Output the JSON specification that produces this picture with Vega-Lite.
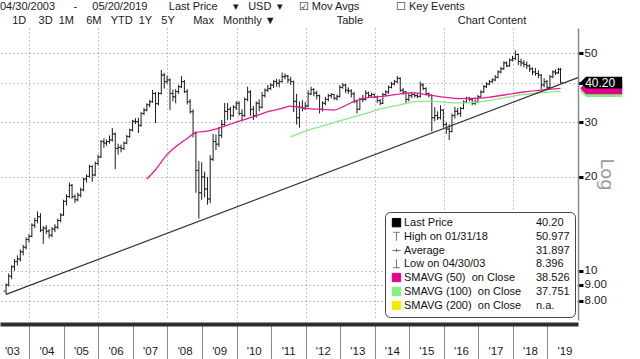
{
  "$schema": "https://vega.github.io/schema/vega-lite/v6.json",
  "width": 578,
  "height": 292,
  "autosize": {"type": "none"},
  "padding": {"top": 28, "left": 0, "right": 62, "bottom": 39},
  "background": "#ffffff",
  "config": {"view": {"stroke": null}, "font": "Liberation Sans"},
  "title": {
    "text": "04/30/2003\u00a0\u00a0\u00a0\u00a0\u00a0\u00a0-\u00a0\u00a0\u00a0\u00a0\u00a005/20/2019\u00a0\u00a0\u00a0\u00a0\u00a0\u00a0\u00a0Last Price\u00a0\u00a0\u00a0\u00a0\u00a0\u25be\u00a0\u00a0\u00a0USD\u00a0\u00a0\u25be\u00a0\u00a0\u00a0\u00a0\u00a0\u2611 Mov Avgs\u00a0\u00a0\u00a0\u00a0\u00a0\u00a0\u00a0\u00a0\u00a0\u00a0\u00a0\u00a0\u2610 Key Events",
    "subtitle": "\u200b\u00a0\u00a0\u00a0\u00a01D\u00a0\u00a0\u00a0\u00a03D\u00a0\u00a01M\u00a0\u00a0\u00a0\u00a06M\u00a0\u00a0\u00a0YTD\u00a0\u00a01Y\u00a0\u00a0\u00a05Y\u00a0\u00a0\u00a0\u00a0\u00a0\u00a0Max\u00a0\u00a0\u00a0Monthly \u25bc\u00a0\u00a0\u00a0\u00a0\u00a0\u00a0\u00a0\u00a0\u00a0\u00a0\u00a0\u00a0\u00a0\u00a0\u00a0\u00a0\u00a0\u00a0\u00a0\u00a0Table\u00a0\u00a0\u00a0\u00a0\u00a0\u00a0\u00a0\u00a0\u00a0\u00a0\u00a0\u00a0\u00a0\u00a0\u00a0\u00a0\u00a0\u00a0\u00a0\u00a0\u00a0\u00a0\u00a0\u00a0\u00a0\u00a0\u00a0\u00a0\u00a0\u00a0\u00a0Chart Content",
    "anchor": "start",
    "frame": "group",
    "offset": 2,
    "font": "Liberation Sans",
    "fontSize": 11,
    "fontWeight": "normal",
    "color": "#1a1a1a",
    "subtitleFont": "Liberation Sans",
    "subtitleFontSize": 11,
    "subtitleColor": "#1a1a1a",
    "subtitlePadding": 3
  },
  "datasets": {
    "px": [
      {"d":"2003-04-30","o":8.6,"h":9.1,"l":8.396,"c":9.0},
      {"d":"2003-05-28","o":9.0,"h":9.8,"l":8.9,"c":9.6},
      {"d":"2003-06-28","o":9.6,"h":10.4,"l":9.4,"c":10.3},
      {"d":"2003-07-28","o":10.3,"h":10.9,"l":10.0,"c":10.7},
      {"d":"2003-08-28","o":10.7,"h":11.2,"l":10.4,"c":10.9},
      {"d":"2003-09-28","o":10.9,"h":11.7,"l":10.7,"c":11.5},
      {"d":"2003-10-28","o":11.5,"h":12.1,"l":11.2,"c":11.9},
      {"d":"2003-11-28","o":11.9,"h":12.8,"l":11.7,"c":12.6},
      {"d":"2003-12-28","o":12.6,"h":13.1,"l":12.3,"c":12.9},
      {"d":"2004-01-28","o":12.9,"h":14.2,"l":12.8,"c":14.0},
      {"d":"2004-02-28","o":14.0,"h":14.8,"l":13.7,"c":14.5},
      {"d":"2004-03-28","o":14.5,"h":15.5,"l":14.2,"c":14.9},
      {"d":"2004-04-28","o":14.9,"h":15.3,"l":13.3,"c":13.5},
      {"d":"2004-05-28","o":13.5,"h":13.9,"l":12.2,"c":13.7},
      {"d":"2004-06-28","o":13.7,"h":14.0,"l":13.1,"c":13.4},
      {"d":"2004-07-28","o":13.4,"h":13.6,"l":12.7,"c":13.0},
      {"d":"2004-08-28","o":13.0,"h":13.8,"l":12.8,"c":13.6},
      {"d":"2004-09-28","o":13.6,"h":14.1,"l":13.3,"c":13.8},
      {"d":"2004-10-28","o":13.8,"h":14.7,"l":13.6,"c":14.5},
      {"d":"2004-11-28","o":14.5,"h":15.3,"l":14.3,"c":15.1},
      {"d":"2004-12-28","o":15.1,"h":16.9,"l":15.0,"c":16.7},
      {"d":"2005-01-28","o":16.7,"h":17.6,"l":16.2,"c":17.3},
      {"d":"2005-02-28","o":17.3,"h":19.2,"l":17.1,"c":18.8},
      {"d":"2005-03-28","o":18.8,"h":19.0,"l":17.0,"c":17.3},
      {"d":"2005-04-28","o":17.3,"h":17.6,"l":16.5,"c":16.9},
      {"d":"2005-05-28","o":16.9,"h":17.8,"l":16.7,"c":17.5},
      {"d":"2005-06-28","o":17.5,"h":18.5,"l":17.2,"c":18.2},
      {"d":"2005-07-28","o":18.2,"h":19.9,"l":18.0,"c":19.7},
      {"d":"2005-08-28","o":19.7,"h":20.4,"l":19.2,"c":20.1},
      {"d":"2005-09-28","o":20.1,"h":21.9,"l":19.9,"c":21.6},
      {"d":"2005-10-28","o":21.6,"h":21.8,"l":19.3,"c":20.3},
      {"d":"2005-11-28","o":20.3,"h":22.4,"l":20.1,"c":22.1},
      {"d":"2005-12-28","o":22.1,"h":23.6,"l":21.8,"c":23.2},
      {"d":"2006-01-28","o":23.2,"h":26.3,"l":23.0,"c":26.0},
      {"d":"2006-02-28","o":26.0,"h":26.6,"l":24.8,"c":25.7},
      {"d":"2006-03-28","o":25.7,"h":26.4,"l":25.2,"c":26.0},
      {"d":"2006-04-28","o":26.0,"h":27.2,"l":25.6,"c":26.3},
      {"d":"2006-05-28","o":26.3,"h":28.7,"l":26.0,"c":27.5},
      {"d":"2006-06-28","o":27.5,"h":27.8,"l":21.2,"c":24.7},
      {"d":"2006-07-28","o":24.7,"h":25.6,"l":23.6,"c":24.9},
      {"d":"2006-08-28","o":24.9,"h":25.4,"l":24.0,"c":24.7},
      {"d":"2006-09-28","o":24.7,"h":26.0,"l":24.4,"c":25.7},
      {"d":"2006-10-28","o":25.7,"h":27.3,"l":25.5,"c":27.0},
      {"d":"2006-11-28","o":27.0,"h":28.6,"l":26.7,"c":28.3},
      {"d":"2006-12-28","o":28.3,"h":30.5,"l":28.0,"c":30.2},
      {"d":"2007-01-28","o":30.2,"h":30.9,"l":29.6,"c":30.1},
      {"d":"2007-02-28","o":30.1,"h":31.0,"l":27.7,"c":29.3},
      {"d":"2007-03-28","o":29.3,"h":32.3,"l":29.0,"c":32.0},
      {"d":"2007-04-28","o":32.0,"h":33.3,"l":31.6,"c":32.8},
      {"d":"2007-05-28","o":32.8,"h":34.5,"l":32.5,"c":34.1},
      {"d":"2007-06-28","o":34.1,"h":35.4,"l":33.5,"c":34.9},
      {"d":"2007-07-28","o":34.9,"h":38.1,"l":34.6,"c":37.1},
      {"d":"2007-08-28","o":37.1,"h":37.5,"l":29.8,"c":34.4},
      {"d":"2007-09-28","o":34.4,"h":37.5,"l":34.0,"c":37.1},
      {"d":"2007-10-28","o":37.1,"h":44.1,"l":36.8,"c":42.5},
      {"d":"2007-11-28","o":42.5,"h":43.2,"l":38.5,"c":40.5},
      {"d":"2007-12-28","o":40.5,"h":42.4,"l":39.8,"c":41.0},
      {"d":"2008-01-28","o":41.0,"h":41.5,"l":32.8,"c":37.1},
      {"d":"2008-02-28","o":37.1,"h":38.2,"l":35.0,"c":36.2},
      {"d":"2008-03-28","o":36.2,"h":38.3,"l":34.5,"c":37.6},
      {"d":"2008-04-28","o":37.6,"h":39.6,"l":37.0,"c":39.0},
      {"d":"2008-05-28","o":39.0,"h":42.2,"l":38.6,"c":40.5},
      {"d":"2008-06-28","o":40.5,"h":41.0,"l":37.2,"c":37.6},
      {"d":"2008-07-28","o":37.6,"h":38.3,"l":34.2,"c":34.9},
      {"d":"2008-08-28","o":34.9,"h":35.6,"l":32.0,"c":32.4},
      {"d":"2008-09-28","o":32.4,"h":33.0,"l":26.8,"c":27.6},
      {"d":"2008-10-28","o":27.6,"h":28.0,"l":17.8,"c":21.0},
      {"d":"2008-11-28","o":21.0,"h":22.5,"l":14.7,"c":17.8},
      {"d":"2008-12-28","o":17.8,"h":22.3,"l":16.9,"c":20.0},
      {"d":"2009-01-28","o":20.0,"h":20.8,"l":17.2,"c":18.3},
      {"d":"2009-02-28","o":18.3,"h":20.0,"l":16.3,"c":17.0},
      {"d":"2009-03-28","o":17.0,"h":23.5,"l":16.5,"c":22.8},
      {"d":"2009-04-28","o":22.8,"h":27.5,"l":22.5,"c":26.0},
      {"d":"2009-05-28","o":26.0,"h":27.4,"l":24.4,"c":25.5},
      {"d":"2009-06-28","o":25.5,"h":29.0,"l":25.0,"c":27.2},
      {"d":"2009-07-28","o":27.2,"h":30.5,"l":26.7,"c":29.5},
      {"d":"2009-08-28","o":29.5,"h":34.6,"l":29.2,"c":32.5},
      {"d":"2009-09-28","o":32.5,"h":34.6,"l":30.5,"c":33.0},
      {"d":"2009-10-28","o":33.0,"h":33.6,"l":30.5,"c":31.5},
      {"d":"2009-11-28","o":31.5,"h":34.0,"l":31.2,"c":33.5},
      {"d":"2009-12-28","o":33.5,"h":35.0,"l":32.8,"c":34.5},
      {"d":"2010-01-28","o":34.5,"h":35.0,"l":31.5,"c":32.0},
      {"d":"2010-02-28","o":32.0,"h":33.0,"l":30.2,"c":31.5},
      {"d":"2010-03-28","o":31.5,"h":36.0,"l":31.2,"c":35.5},
      {"d":"2010-04-28","o":35.5,"h":39.0,"l":35.0,"c":37.5},
      {"d":"2010-05-28","o":37.5,"h":38.0,"l":31.5,"c":33.0},
      {"d":"2010-06-28","o":33.0,"h":33.8,"l":30.5,"c":31.5},
      {"d":"2010-07-28","o":31.5,"h":35.0,"l":31.0,"c":34.5},
      {"d":"2010-08-28","o":34.5,"h":35.5,"l":32.5,"c":33.5},
      {"d":"2010-09-28","o":33.5,"h":37.5,"l":33.2,"c":36.5},
      {"d":"2010-10-28","o":36.5,"h":38.5,"l":36.0,"c":38.0},
      {"d":"2010-11-28","o":38.0,"h":39.5,"l":37.5,"c":38.5},
      {"d":"2010-12-28","o":38.5,"h":40.0,"l":38.0,"c":39.5},
      {"d":"2011-01-28","o":39.5,"h":41.0,"l":38.6,"c":40.5},
      {"d":"2011-02-28","o":40.5,"h":41.3,"l":39.0,"c":40.0},
      {"d":"2011-03-28","o":40.0,"h":41.2,"l":38.8,"c":40.5},
      {"d":"2011-04-28","o":40.5,"h":43.3,"l":40.2,"c":42.0},
      {"d":"2011-05-28","o":42.0,"h":43.0,"l":41.2,"c":42.2},
      {"d":"2011-06-28","o":42.2,"h":42.5,"l":40.0,"c":41.0},
      {"d":"2011-07-28","o":41.0,"h":42.0,"l":39.5,"c":40.5},
      {"d":"2011-08-28","o":40.5,"h":40.8,"l":32.3,"c":35.0},
      {"d":"2011-09-28","o":35.0,"h":37.0,"l":29.5,"c":31.0},
      {"d":"2011-10-28","o":31.0,"h":35.0,"l":28.8,"c":33.5},
      {"d":"2011-11-28","o":33.5,"h":35.3,"l":32.5,"c":33.2},
      {"d":"2011-12-28","o":33.2,"h":34.8,"l":32.8,"c":33.8},
      {"d":"2012-01-28","o":33.8,"h":38.0,"l":33.5,"c":37.0},
      {"d":"2012-02-28","o":37.0,"h":39.0,"l":36.6,"c":38.2},
      {"d":"2012-03-28","o":38.2,"h":38.6,"l":36.3,"c":37.2},
      {"d":"2012-04-28","o":37.2,"h":37.8,"l":35.5,"c":36.5},
      {"d":"2012-05-28","o":36.5,"h":36.8,"l":32.0,"c":33.0},
      {"d":"2012-06-28","o":33.0,"h":35.0,"l":32.5,"c":34.5},
      {"d":"2012-07-28","o":34.5,"h":36.2,"l":34.0,"c":35.5},
      {"d":"2012-08-28","o":35.5,"h":37.0,"l":35.0,"c":36.5},
      {"d":"2012-09-28","o":36.5,"h":37.2,"l":35.8,"c":36.8},
      {"d":"2012-10-28","o":36.8,"h":37.0,"l":35.3,"c":35.8},
      {"d":"2012-11-28","o":35.8,"h":36.8,"l":35.2,"c":36.3},
      {"d":"2012-12-28","o":36.3,"h":39.5,"l":36.0,"c":38.8},
      {"d":"2013-01-28","o":38.8,"h":40.0,"l":38.4,"c":39.5},
      {"d":"2013-02-28","o":39.5,"h":39.8,"l":37.2,"c":38.0},
      {"d":"2013-03-28","o":38.0,"h":38.8,"l":37.0,"c":37.8},
      {"d":"2013-04-28","o":37.8,"h":38.3,"l":36.0,"c":37.0},
      {"d":"2013-05-28","o":37.0,"h":37.5,"l":34.5,"c":35.0},
      {"d":"2013-06-28","o":35.0,"h":35.3,"l":32.0,"c":33.0},
      {"d":"2013-07-28","o":33.0,"h":36.0,"l":32.8,"c":35.5},
      {"d":"2013-08-28","o":35.5,"h":36.7,"l":34.8,"c":35.5},
      {"d":"2013-09-28","o":35.5,"h":38.0,"l":35.2,"c":37.2},
      {"d":"2013-10-28","o":37.2,"h":37.6,"l":36.0,"c":36.5},
      {"d":"2013-11-28","o":36.5,"h":37.3,"l":36.0,"c":36.8},
      {"d":"2013-12-28","o":36.8,"h":37.1,"l":35.8,"c":36.2},
      {"d":"2014-01-28","o":36.2,"h":36.5,"l":34.6,"c":35.2},
      {"d":"2014-02-28","o":35.2,"h":35.6,"l":34.0,"c":34.5},
      {"d":"2014-03-28","o":34.5,"h":37.3,"l":34.3,"c":36.8},
      {"d":"2014-04-28","o":36.8,"h":38.0,"l":36.4,"c":37.5},
      {"d":"2014-05-28","o":37.5,"h":39.4,"l":37.0,"c":38.8},
      {"d":"2014-06-28","o":38.8,"h":40.4,"l":38.5,"c":39.8},
      {"d":"2014-07-28","o":39.8,"h":41.0,"l":39.4,"c":40.5},
      {"d":"2014-08-28","o":40.5,"h":42.2,"l":40.0,"c":41.5},
      {"d":"2014-09-28","o":41.5,"h":41.8,"l":37.5,"c":38.0},
      {"d":"2014-10-28","o":38.0,"h":38.6,"l":36.7,"c":37.5},
      {"d":"2014-11-28","o":37.5,"h":37.8,"l":34.5,"c":35.5},
      {"d":"2014-12-28","o":35.5,"h":37.2,"l":35.0,"c":36.5},
      {"d":"2015-01-28","o":36.5,"h":37.4,"l":35.8,"c":36.8},
      {"d":"2015-02-28","o":36.8,"h":37.2,"l":36.0,"c":36.5},
      {"d":"2015-03-28","o":36.5,"h":37.0,"l":35.8,"c":36.3},
      {"d":"2015-04-28","o":36.3,"h":40.5,"l":36.0,"c":39.5},
      {"d":"2015-05-28","o":39.5,"h":40.0,"l":38.0,"c":38.5},
      {"d":"2015-06-28","o":38.5,"h":38.8,"l":36.6,"c":37.0},
      {"d":"2015-07-28","o":37.0,"h":37.4,"l":36.0,"c":36.6},
      {"d":"2015-08-28","o":36.6,"h":36.9,"l":28.0,"c":31.0},
      {"d":"2015-09-28","o":31.0,"h":33.5,"l":30.2,"c":31.5},
      {"d":"2015-10-28","o":31.5,"h":32.5,"l":30.5,"c":31.0},
      {"d":"2015-11-28","o":31.0,"h":34.0,"l":30.6,"c":32.8},
      {"d":"2015-12-28","o":32.8,"h":33.0,"l":28.8,"c":29.5},
      {"d":"2016-01-28","o":29.5,"h":30.0,"l":27.5,"c":28.5},
      {"d":"2016-02-28","o":28.5,"h":29.5,"l":26.3,"c":28.0},
      {"d":"2016-03-28","o":28.0,"h":32.0,"l":27.8,"c":31.5},
      {"d":"2016-04-28","o":31.5,"h":33.6,"l":30.8,"c":32.5},
      {"d":"2016-05-28","o":32.5,"h":33.3,"l":31.5,"c":32.0},
      {"d":"2016-06-28","o":32.0,"h":33.6,"l":31.2,"c":33.2},
      {"d":"2016-07-28","o":33.2,"h":35.2,"l":33.0,"c":34.8},
      {"d":"2016-08-28","o":34.8,"h":36.2,"l":34.6,"c":35.8},
      {"d":"2016-09-28","o":35.8,"h":36.2,"l":35.0,"c":35.5},
      {"d":"2016-10-28","o":35.5,"h":35.8,"l":34.0,"c":34.5},
      {"d":"2016-11-28","o":34.5,"h":35.5,"l":34.0,"c":34.8},
      {"d":"2016-12-28","o":34.8,"h":36.7,"l":34.6,"c":36.2},
      {"d":"2017-01-28","o":36.2,"h":38.0,"l":36.0,"c":37.5},
      {"d":"2017-02-28","o":37.5,"h":39.5,"l":37.3,"c":39.0},
      {"d":"2017-03-28","o":39.0,"h":40.3,"l":38.6,"c":39.8},
      {"d":"2017-04-28","o":39.8,"h":41.0,"l":39.4,"c":40.5},
      {"d":"2017-05-28","o":40.5,"h":41.5,"l":40.0,"c":41.0},
      {"d":"2017-06-28","o":41.0,"h":42.5,"l":40.6,"c":41.8},
      {"d":"2017-07-28","o":41.8,"h":44.0,"l":41.5,"c":43.5},
      {"d":"2017-08-28","o":43.5,"h":45.2,"l":43.0,"c":44.5},
      {"d":"2017-09-28","o":44.5,"h":47.0,"l":44.2,"c":46.5},
      {"d":"2017-10-28","o":46.5,"h":47.0,"l":45.0,"c":45.5},
      {"d":"2017-11-28","o":45.5,"h":48.0,"l":45.2,"c":47.5},
      {"d":"2017-12-28","o":47.5,"h":49.0,"l":47.0,"c":48.0},
      {"d":"2018-01-28","o":48.0,"h":50.977,"l":47.5,"c":49.5},
      {"d":"2018-02-28","o":49.5,"h":49.8,"l":45.8,"c":47.0},
      {"d":"2018-03-28","o":47.0,"h":48.0,"l":45.3,"c":46.5},
      {"d":"2018-04-28","o":46.5,"h":47.5,"l":45.0,"c":46.0},
      {"d":"2018-05-28","o":46.0,"h":47.0,"l":44.5,"c":45.5},
      {"d":"2018-06-28","o":45.5,"h":46.0,"l":43.5,"c":44.5},
      {"d":"2018-07-28","o":44.5,"h":45.0,"l":42.5,"c":43.5},
      {"d":"2018-08-28","o":43.5,"h":44.8,"l":42.3,"c":43.0},
      {"d":"2018-09-28","o":43.0,"h":44.0,"l":41.5,"c":42.5},
      {"d":"2018-10-28","o":42.5,"h":42.8,"l":38.2,"c":39.5},
      {"d":"2018-11-28","o":39.5,"h":41.5,"l":38.8,"c":40.5},
      {"d":"2018-12-28","o":40.5,"h":41.0,"l":38.0,"c":38.8},
      {"d":"2019-01-28","o":38.8,"h":42.5,"l":38.5,"c":42.0},
      {"d":"2019-02-28","o":42.0,"h":44.0,"l":41.5,"c":43.5},
      {"d":"2019-03-28","o":43.5,"h":44.3,"l":42.5,"c":43.2},
      {"d":"2019-04-28","o":43.2,"h":44.8,"l":42.8,"c":44.3},
      {"d":"2019-05-20","o":44.3,"h":44.8,"l":40.0,"c":40.2}
    ],
    "s50": [
      {"d":"2007-05-28","v":19.7},{"d":"2007-08-28","v":21.1},{"d":"2007-12-28","v":23.6},
      {"d":"2008-03-28","v":25.0},{"d":"2008-07-28","v":26.6},{"d":"2008-10-28","v":27.8},
      {"d":"2009-02-28","v":28.1},{"d":"2009-06-28","v":28.7},{"d":"2009-11-28","v":29.8},
      {"d":"2010-05-28","v":31.0},{"d":"2010-10-28","v":32.2},{"d":"2011-04-28","v":33.2},
      {"d":"2011-07-28","v":33.8},{"d":"2011-10-28","v":33.5},{"d":"2012-02-28","v":33.1},
      {"d":"2012-06-28","v":33.0},{"d":"2012-10-28","v":32.8},{"d":"2013-01-28","v":33.6},
      {"d":"2013-05-28","v":35.0},{"d":"2013-09-28","v":35.9},{"d":"2014-03-28","v":36.3},
      {"d":"2014-09-28","v":37.0},{"d":"2015-01-28","v":37.3},{"d":"2015-06-28","v":36.8},
      {"d":"2015-12-28","v":36.1},{"d":"2016-06-28","v":35.7},{"d":"2016-12-28","v":35.8},
      {"d":"2017-05-28","v":36.2},{"d":"2017-11-28","v":36.9},{"d":"2018-04-28","v":37.5},
      {"d":"2018-10-28","v":38.0},{"d":"2019-05-20","v":38.526}
    ],
    "s100": [
      {"d":"2011-07-28","v":26.9},{"d":"2011-10-28","v":27.6},{"d":"2012-01-28","v":28.3},
      {"d":"2012-05-28","v":29.0},{"d":"2012-10-28","v":29.9},{"d":"2013-04-28","v":31.0},
      {"d":"2013-09-28","v":32.0},{"d":"2014-03-28","v":33.2},{"d":"2014-09-28","v":34.1},
      {"d":"2015-03-28","v":35.0},{"d":"2015-09-28","v":35.0},{"d":"2016-03-28","v":34.6},
      {"d":"2016-09-28","v":34.6},{"d":"2017-03-28","v":35.1},{"d":"2017-09-28","v":35.9},
      {"d":"2018-03-28","v":36.7},{"d":"2018-10-28","v":37.3},{"d":"2019-05-20","v":37.751}
    ],
    "tl": [
      {"d":"2003-04-30","v":8.396},{"d":"2019-11-21","v":41.7}
    ],
    "lg": [
      {"item":"Last Price"},{"item":"High on 01/31/18"},{"item":"Average"},{"item":"Low on 04/30/03"},
      {"item":"SMAVG (50)\u00a0\u00a0on Close"},{"item":"SMAVG (100)\u00a0\u00a0on Close"},{"item":"SMAVG (200)\u00a0\u00a0on Close"},
      {"item":"40.20"},{"item":"50.977"},{"item":"31.897"},{"item":"8.396"},
      {"item":"38.526"},{"item":"37.751"},{"item":"n.a."}
    ],
    "pl": [
      {"k":"SMAVG (100)","v":37.751,"t":"37.751"},
      {"k":"SMAVG (50)","v":38.526,"t":"38.526"},
      {"k":"Last Price","v":40.2,"t":"40.20"}
    ]
  },
  "resolve": {"axis": {"x": "independent"}},
  "layer": [
    {
      "data": {"name": "px"},
      "mark": {"type": "rule", "color": "#1c1c1c", "strokeWidth": 1},
      "encoding": {
        "x": {
          "field": "d", "type": "temporal",
          "scale": {"domain": [{"year":2003,"month":2,"date":25},{"year":2019,"month":11,"date":21}]},
          "axis": {
            "orient": "bottom",
            "title": null, "labels": false, "ticks": false, "domain": false,
            "grid": true, "gridColor": "#8a8a8a", "gridDash": [1, 3], "gridWidth": 1,
            "values": [
              {"year":2004,"month":1,"date":1},{"year":2006,"month":1,"date":1},
              {"year":2008,"month":1,"date":1},{"year":2010,"month":1,"date":1},
              {"year":2012,"month":1,"date":1},{"year":2014,"month":1,"date":1},
              {"year":2016,"month":1,"date":1},{"year":2018,"month":1,"date":1}
            ]
          }
        },
        "y": {
          "field": "l", "type": "quantitative",
          "scale": {"type": "log", "domain": [6.945, 60.2], "nice": false},
          "axis": {
            "orient": "right",
            "values": [8, 9, 10, 20, 30, 40, 50],
            "labelExpr": "datum.value == 40 ? '' : (datum.value < 10 ? format(datum.value, '.2f') : format(datum.value, 'd'))",
            "labelFont": "Liberation Sans", "labelFontSize": 11.5, "labelColor": "#1a1a1a",
            "labelPadding": 1,
            "ticks": true, "tickSize": 5, "tickWidth": 3, "tickColor": "#000000",
            "domain": true, "domainColor": "#8a8a8a", "domainWidth": 1.5,
            "grid": true, "gridColor": "#8a8a8a", "gridDash": [1, 3], "gridWidth": 1,
            "title": "Log", "titleAngle": 90, "titleFont": "DejaVu Sans", "titleFontSize": 18,
            "titleFontWeight": "normal", "titleColor": "#9a9a9a", "titlePadding": -10
          }
        },
        "y2": {"field": "h"}
      }
    },
    {
      "data": {"name": "px"},
      "mark": {"type": "tick", "orient": "horizontal", "size": 3, "thickness": 1, "xOffset": -1.5, "color": "#1c1c1c"},
      "encoding": {
        "x": {
          "field": "d", "type": "temporal",
          "scale": {"domain": [{"year":2003,"month":2,"date":25},{"year":2019,"month":11,"date":21}]},
          "axis": {
            "orient": "bottom",
            "title": null, "labels": false, "grid": false,
            "ticks": true, "tickSize": 35, "tickColor": "#8a8a8a", "tickWidth": 1,
            "domain": true, "domainColor": "#2e2e2e", "domainWidth": 4, "offset": 4,
            "values": [
              {"year":2004,"month":1,"date":1},{"year":2005,"month":1,"date":1},
              {"year":2006,"month":1,"date":1},{"year":2007,"month":1,"date":1},
              {"year":2008,"month":1,"date":1},{"year":2009,"month":1,"date":1},
              {"year":2010,"month":1,"date":1},{"year":2011,"month":1,"date":1},
              {"year":2012,"month":1,"date":1},{"year":2013,"month":1,"date":1},
              {"year":2014,"month":1,"date":1},{"year":2015,"month":1,"date":1},
              {"year":2016,"month":1,"date":1},{"year":2017,"month":1,"date":1},
              {"year":2018,"month":1,"date":1},{"year":2019,"month":1,"date":1}
            ]
          }
        },
        "y": {"field": "o", "type": "quantitative", "scale": {"type": "log", "domain": [6.945, 60.2], "nice": false}}
      }
    },
    {
      "data": {"name": "px"},
      "mark": {"type": "tick", "orient": "horizontal", "size": 3, "thickness": 1, "xOffset": 1.5, "color": "#1c1c1c"},
      "encoding": {
        "x": {
          "field": "d", "type": "temporal",
          "scale": {"domain": [{"year":2003,"month":2,"date":25},{"year":2019,"month":11,"date":21}]},
          "axis": {
            "orient": "bottom",
            "title": null, "grid": false, "ticks": false, "tickSize": 0, "domain": false,
            "format": "'%y", "labelFont": "Liberation Sans", "labelFontSize": 11.5, "labelColor": "#1a1a1a",
            "labelPadding": 25, "labelFlush": false, "labelOverlap": false, "labelBound": false,
            "values": [
              {"year":2003,"month":7,"date":1},{"year":2004,"month":7,"date":1},
              {"year":2005,"month":7,"date":1},{"year":2006,"month":7,"date":1},
              {"year":2007,"month":7,"date":1},{"year":2008,"month":7,"date":1},
              {"year":2009,"month":7,"date":1},{"year":2010,"month":7,"date":1},
              {"year":2011,"month":7,"date":1},{"year":2012,"month":7,"date":1},
              {"year":2013,"month":7,"date":1},{"year":2014,"month":7,"date":1},
              {"year":2015,"month":7,"date":1},{"year":2016,"month":7,"date":1},
              {"year":2017,"month":7,"date":1},{"year":2018,"month":7,"date":1},
              {"year":2019,"month":7,"date":1}
            ]
          }
        },
        "y": {"field": "c", "type": "quantitative", "scale": {"type": "log", "domain": [6.945, 60.2], "nice": false}}
      }
    },
    {
      "data": {"name": "s50"},
      "mark": {"type": "line", "color": "#ec1a96", "strokeWidth": 1.3, "interpolate": "monotone"},
      "encoding": {
        "x": {"field": "d", "type": "temporal", "scale": {"domain": [{"year":2003,"month":2,"date":25},{"year":2019,"month":11,"date":21}]}, "axis": null},
        "y": {"field": "v", "type": "quantitative", "scale": {"type": "log", "domain": [6.945, 60.2], "nice": false}}
      }
    },
    {
      "data": {"name": "s100"},
      "mark": {"type": "line", "color": "#86ec86", "strokeWidth": 1.3, "interpolate": "monotone"},
      "encoding": {
        "x": {"field": "d", "type": "temporal", "scale": {"domain": [{"year":2003,"month":2,"date":25},{"year":2019,"month":11,"date":21}]}, "axis": null},
        "y": {"field": "v", "type": "quantitative", "scale": {"type": "log", "domain": [6.945, 60.2], "nice": false}}
      }
    },
    {
      "data": {"name": "tl"},
      "mark": {"type": "line", "color": "#333333", "strokeWidth": 1.2},
      "encoding": {
        "x": {"field": "d", "type": "temporal", "scale": {"domain": [{"year":2003,"month":2,"date":25},{"year":2019,"month":11,"date":21}]}, "axis": null},
        "y": {"field": "v", "type": "quantitative", "scale": {"type": "log", "domain": [6.945, 60.2], "nice": false}}
      }
    },
    {
      "data": {"name": "lg"},
      "mark": {"type": "point", "filled": true, "opacity": 0},
      "encoding": {
        "color": {
          "field": "item", "type": "nominal",
          "scale": {
            "domain": ["Last Price","High on 01/31/18","Average","Low on 04/30/03","SMAVG (50)\u00a0\u00a0on Close","SMAVG (100)\u00a0\u00a0on Close","SMAVG (200)\u00a0\u00a0on Close","40.20","50.977","31.897","8.396","38.526","37.751","n.a."],
            "range": ["#000000","#777777","#777777","#777777","#e6008c","#80f080","#f2ea00","transparent","transparent","transparent","transparent","transparent","transparent","transparent"]
          },
          "legend": {
            "title": null, "orient": "bottom-right", "offset": 3, "columns": 2, "columnPadding": 0,
            "rowPadding": 1, "padding": 5, "gridAlign": "each",
            "fillColor": "#ffffff", "strokeColor": "#444444", "cornerRadius": 5,
            "labelFont": "Liberation Sans", "labelFontSize": 11, "labelColor": "#111111", "labelLimit": 220,
            "labelOffset": 2, "symbolOffset": 1, "symbolSize": 70, "symbolOpacity": 1, "symbolStrokeWidth": 1,
            "encode": {"symbols": {"update": {"fill": {"scale": "color", "field": "value"}, "stroke": {"scale": "color", "field": "value"}, "opacity": {"value": 1}}}}
          }
        },
        "shape": {
          "field": "item", "type": "nominal",
          "scale": {
            "domain": ["Last Price","High on 01/31/18","Average","Low on 04/30/03","SMAVG (50)\u00a0\u00a0on Close","SMAVG (100)\u00a0\u00a0on Close","SMAVG (200)\u00a0\u00a0on Close","40.20","50.977","31.897","8.396","38.526","37.751","n.a."],
            "range": ["square","M-0.8,-1H0.8M0,-1V1","M-1,0H1M0,-0.45V0.45","M-0.8,1H0.8M0,1V-1","square","square","square","M0,0","M0,0","M0,0","M0,0","M0,0","M0,0","M0,0"]
          }
        }
      }
    },
    {
      "data": {"name": "pl"},
      "mark": {"type": "point", "filled": true, "opacity": 1, "size": 1764, "shape": "M-1,0L-0.72,-0.28H1V0.28H-0.72Z", "strokeWidth": 0},
      "encoding": {
        "x": {"datum": {"year":2020,"month":7,"date":23}, "type": "temporal", "scale": {"domain": [{"year":2003,"month":2,"date":25},{"year":2019,"month":11,"date":21}]}, "axis": null},
        "y": {"field": "v", "type": "quantitative", "scale": {"type": "log", "domain": [6.945, 60.2], "nice": false}},
        "fill": {"field": "k", "type": "nominal", "scale": {"domain": ["SMAVG (100)","SMAVG (50)","Last Price"], "range": ["#80f080","#e6008c","#000000"]}, "legend": null}
      }
    },
    {
      "data": {"name": "pl"},
      "transform": [{"filter": "datum.k == 'Last Price'"}],
      "mark": {"type": "text", "color": "#ffffff", "font": "Liberation Sans", "fontSize": 12, "dx": -1},
      "encoding": {
        "x": {"datum": {"year":2020,"month":7,"date":23}, "type": "temporal", "scale": {"domain": [{"year":2003,"month":2,"date":25},{"year":2019,"month":11,"date":21}]}, "axis": null},
        "y": {"field": "v", "type": "quantitative", "scale": {"type": "log", "domain": [6.945, 60.2], "nice": false}},
        "text": {"field": "t"}
      }
    }
  ]
}
